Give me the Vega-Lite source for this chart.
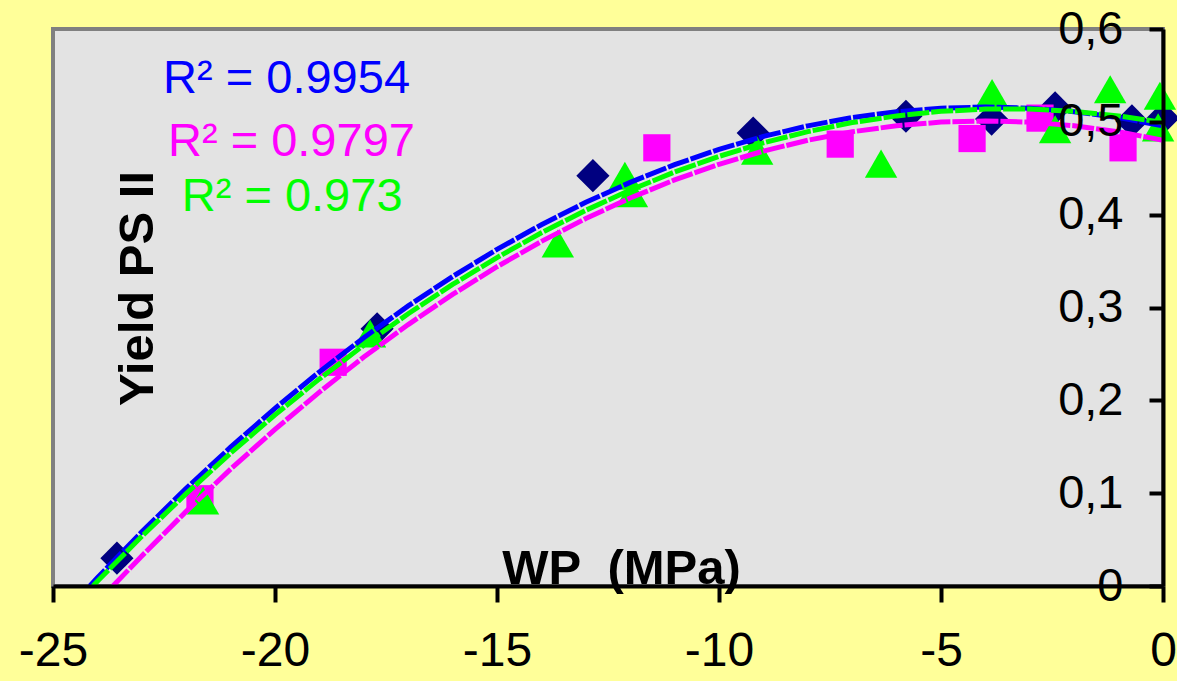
{
  "$schema": "https://vega.github.io/schema/vega-lite/v6.json",
  "width": 1110,
  "height": 557,
  "autosize": "none",
  "padding": {"left": 53, "top": 29, "right": 14, "bottom": 95},
  "background": "#FFFF99",
  "config": {
    "view": {"fill": "#E3E3E3", "stroke": "#808080", "strokeWidth": 4},
    "font": "Liberation Sans",
    "axis": {"labelFont": "Liberation Sans", "titleFont": "Liberation Sans", "labelColor": "#000000", "titleColor": "#000000"}
  },
  "datasets": {
    "pts": [
      {"s": "d1", "wp": -23.56, "y": 0.030},
      {"s": "d1", "wp": -17.70, "y": 0.277},
      {"s": "d1", "wp": -12.84, "y": 0.442},
      {"s": "d1", "wp": -9.23, "y": 0.488},
      {"s": "d1", "wp": -5.79, "y": 0.506},
      {"s": "d1", "wp": -3.86, "y": 0.503},
      {"s": "d1", "wp": -2.43, "y": 0.515},
      {"s": "d1", "wp": -0.70, "y": 0.501},
      {"s": "d1", "wp": 0.0, "y": 0.504},
      {"s": "d2", "wp": -21.69, "y": 0.094},
      {"s": "d2", "wp": -18.69, "y": 0.241},
      {"s": "d2", "wp": -11.40, "y": 0.472},
      {"s": "d2", "wp": -7.27, "y": 0.476},
      {"s": "d2", "wp": -4.30, "y": 0.482},
      {"s": "d2", "wp": -2.77, "y": 0.504},
      {"s": "d2", "wp": -0.90, "y": 0.472},
      {"s": "d3", "wp": -21.62, "y": 0.092},
      {"s": "d3", "wp": -17.86, "y": 0.272},
      {"s": "d3", "wp": -13.63, "y": 0.369},
      {"s": "d3", "wp": -12.12, "y": 0.442},
      {"s": "d3", "wp": -11.96, "y": 0.423},
      {"s": "d3", "wp": -9.14, "y": 0.469},
      {"s": "d3", "wp": -6.35, "y": 0.455},
      {"s": "d3", "wp": -3.85, "y": 0.531},
      {"s": "d3", "wp": -2.43, "y": 0.492},
      {"s": "d3", "wp": -1.19, "y": 0.535},
      {"s": "d3", "wp": -0.07, "y": 0.528},
      {"s": "d3", "wp": -0.11, "y": 0.494}
    ],
    "fit": [
      {"s": "f1", "wp": -24.17, "y": 0.0},
      {"s": "f1", "wp": -24, "y": 0.0088},
      {"s": "f1", "wp": -23, "y": 0.0583},
      {"s": "f1", "wp": -22, "y": 0.1052},
      {"s": "f1", "wp": -21, "y": 0.1495},
      {"s": "f1", "wp": -20, "y": 0.1914},
      {"s": "f1", "wp": -19, "y": 0.2307},
      {"s": "f1", "wp": -18, "y": 0.2675},
      {"s": "f1", "wp": -17, "y": 0.3017},
      {"s": "f1", "wp": -16, "y": 0.3334},
      {"s": "f1", "wp": -15, "y": 0.3626},
      {"s": "f1", "wp": -14, "y": 0.3892},
      {"s": "f1", "wp": -13, "y": 0.4133},
      {"s": "f1", "wp": -12, "y": 0.4348},
      {"s": "f1", "wp": -11, "y": 0.4539},
      {"s": "f1", "wp": -10, "y": 0.4704},
      {"s": "f1", "wp": -9, "y": 0.4843},
      {"s": "f1", "wp": -8, "y": 0.4957},
      {"s": "f1", "wp": -7, "y": 0.5046},
      {"s": "f1", "wp": -6, "y": 0.5109},
      {"s": "f1", "wp": -5, "y": 0.5147},
      {"s": "f1", "wp": -4, "y": 0.516},
      {"s": "f1", "wp": -3, "y": 0.5147},
      {"s": "f1", "wp": -2, "y": 0.5109},
      {"s": "f1", "wp": -1, "y": 0.5046},
      {"s": "f1", "wp": 0, "y": 0.4957},
      {"s": "f2", "wp": -23.65, "y": 0.0},
      {"s": "f2", "wp": -23, "y": 0.0324},
      {"s": "f2", "wp": -22, "y": 0.0804},
      {"s": "f2", "wp": -21, "y": 0.1259},
      {"s": "f2", "wp": -20, "y": 0.1687},
      {"s": "f2", "wp": -19, "y": 0.2089},
      {"s": "f2", "wp": -18, "y": 0.2466},
      {"s": "f2", "wp": -17, "y": 0.2816},
      {"s": "f2", "wp": -16, "y": 0.3141},
      {"s": "f2", "wp": -15, "y": 0.3439},
      {"s": "f2", "wp": -14, "y": 0.3712},
      {"s": "f2", "wp": -13, "y": 0.3959},
      {"s": "f2", "wp": -12, "y": 0.4179},
      {"s": "f2", "wp": -11, "y": 0.4374},
      {"s": "f2", "wp": -10, "y": 0.4543},
      {"s": "f2", "wp": -9, "y": 0.4685},
      {"s": "f2", "wp": -8, "y": 0.4802},
      {"s": "f2", "wp": -7, "y": 0.4893},
      {"s": "f2", "wp": -6, "y": 0.4958},
      {"s": "f2", "wp": -5, "y": 0.4997},
      {"s": "f2", "wp": -4, "y": 0.501},
      {"s": "f2", "wp": -3, "y": 0.4997},
      {"s": "f2", "wp": -2, "y": 0.4958},
      {"s": "f2", "wp": -1, "y": 0.4893},
      {"s": "f2", "wp": 0, "y": 0.4802},
      {"s": "f3", "wp": -24.1, "y": 0.0},
      {"s": "f3", "wp": -24, "y": 0.0051},
      {"s": "f3", "wp": -23, "y": 0.0535},
      {"s": "f3", "wp": -22, "y": 0.0995},
      {"s": "f3", "wp": -21, "y": 0.1431},
      {"s": "f3", "wp": -20, "y": 0.1843},
      {"s": "f3", "wp": -19, "y": 0.2231},
      {"s": "f3", "wp": -18, "y": 0.2594},
      {"s": "f3", "wp": -17, "y": 0.2933},
      {"s": "f3", "wp": -16, "y": 0.3248},
      {"s": "f3", "wp": -15, "y": 0.3538},
      {"s": "f3", "wp": -14, "y": 0.3805},
      {"s": "f3", "wp": -13, "y": 0.4047},
      {"s": "f3", "wp": -12, "y": 0.4265},
      {"s": "f3", "wp": -11, "y": 0.4459},
      {"s": "f3", "wp": -10, "y": 0.4628},
      {"s": "f3", "wp": -9, "y": 0.4774},
      {"s": "f3", "wp": -8, "y": 0.4895},
      {"s": "f3", "wp": -7, "y": 0.4992},
      {"s": "f3", "wp": -6, "y": 0.5064},
      {"s": "f3", "wp": -5, "y": 0.5113},
      {"s": "f3", "wp": -4, "y": 0.5137},
      {"s": "f3", "wp": -3, "y": 0.5137},
      {"s": "f3", "wp": -2, "y": 0.5113},
      {"s": "f3", "wp": -1, "y": 0.5064},
      {"s": "f3", "wp": 0, "y": 0.4992}
    ],
    "r2": [
      {"s": "f1", "wp": -22.52, "y": 0.531, "label": "R² = 0.9954"},
      {"s": "f2", "wp": -22.41, "y": 0.463, "label": "R² = 0.9797"},
      {"s": "f3", "wp": -22.1, "y": 0.404, "label": "R² = 0.973"}
    ]
  },
  "encoding": {
    "x": {
      "field": "wp", "type": "quantitative",
      "scale": {"domain": [-25, 0], "nice": false, "zero": false},
      "axis": {
        "orient": "bottom", "values": [-25, -20, -15, -10, -5, 0],
        "labelExpr": "'' + datum.value",
        "grid": false, "domainColor": "#000000", "domainWidth": 4,
        "tickColor": "#000000", "tickWidth": 4, "tickSize": 16,
        "labelFontSize": 48, "labelPadding": 25, "labelFlush": false, "labelOverlap": false,
        "title": "WP \u00a0(MPa)", "titleFontSize": 49, "titleFontWeight": "bold",
        "titleX": 568, "titleY": -3, "titleAlign": "center", "titleBaseline": "alphabetic",
        "zindex": 1
      }
    },
    "y": {
      "field": "y", "type": "quantitative",
      "scale": {"domain": [0, 0.6], "nice": false},
      "axis": {
        "orient": "right", "values": [0, 0.1, 0.2, 0.3, 0.4, 0.5, 0.6],
        "labelExpr": "replace('' + datum.value, '.', ',')",
        "grid": false, "domainColor": "#000000", "domainWidth": 4,
        "tickColor": "#000000", "tickWidth": 4, "tickSize": -14,
        "labelFontSize": 47, "labelPadding": -26, "labelAlign": "right", "labelBaseline": "middle",
        "labelFlush": false, "labelOverlap": false,
        "title": "Yield PS II", "titleFontSize": 49, "titleFontWeight": "bold",
        "titleAngle": 270, "titleX": -1011, "titleY": 259, "titleAlign": "center", "titleBaseline": "alphabetic",
        "zindex": 1
      }
    },
    "color": {
      "field": "s", "type": "nominal", "legend": null,
      "scale": {"domain": ["d1", "d2", "d3", "f1", "f2", "f3"], "range": ["#000080", "#FF00FF", "#00FF00", "#0000FF", "#FF00FF", "#00FF00"]}
    }
  },
  "layer": [
    {
      "data": {"name": "pts"},
      "mark": {"type": "point", "filled": true, "opacity": 1},
      "encoding": {
        "shape": {"field": "s", "type": "nominal", "legend": null,
          "scale": {"domain": ["d1", "d2", "d3"], "range": ["diamond", "square", "triangle-up"]}},
        "size": {"field": "s", "type": "nominal", "legend": null,
          "scale": {"type": "ordinal", "domain": ["d1", "d2", "d3"], "range": [1100, 740, 1050]}}
      }
    },
    {
      "data": {"name": "fit"},
      "mark": {"type": "line", "strokeWidth": 5, "clip": true, "strokeDash": [22, 2]},
      "encoding": {"detail": {"field": "s", "type": "nominal"}}
    },
    {
      "data": {"name": "r2"},
      "mark": {"type": "text", "align": "left", "baseline": "alphabetic", "fontSize": 47, "font": "Liberation Sans"},
      "encoding": {"text": {"field": "label", "type": "nominal"}}
    }
  ]
}
